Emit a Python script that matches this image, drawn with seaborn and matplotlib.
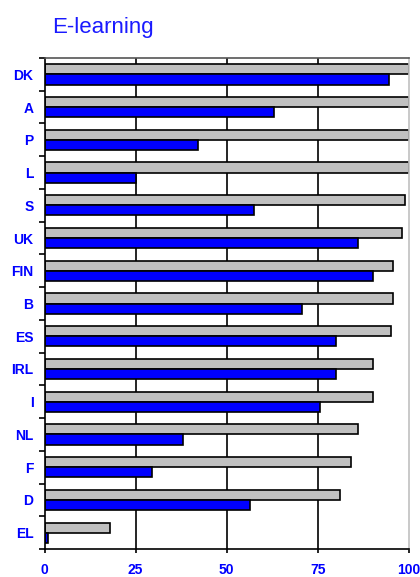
import pandas as pd
import seaborn as sns
import matplotlib.pyplot as plt
from matplotlib.ticker import FixedLocator

countries = ['DK', 'A', 'P', 'L', 'S', 'UK', 'FIN', 'B', 'ES', 'IRL', 'I', 'NL', 'F', 'D', 'EL']
grey_values = [100, 100, 100, 100, 99, 98, 95.5, 95.5, 95, 90, 90, 86, 84, 81, 18]
blue_values = [94.5, 63, 42, 25, 57.5, 86, 90, 70.5, 80, 80, 75.5, 38, 29.5, 56.5, 1]
series_names = ['grey', 'blue']
x_ticks = [0, 25, 50, 75, 100]

df = pd.DataFrame({
    'country': countries * 2,
    'series': [series_names[0]] * len(countries) + [series_names[1]] * len(countries),
    'value': grey_values + blue_values,
})

sns.set_style('white')
plt.rcParams['font.family'] = ['Liberation Sans', 'DejaVu Sans']

fig = plt.figure(figsize=(4.2, 5.77), dpi=100)
ax = fig.add_axes([0.106, 0.0485, 0.868, 0.851])

sns.barplot(data=df, y='country', x='value', hue='series', order=countries,
            hue_order=series_names, palette=['#c0c0c0', '#0000ff'], saturation=1,
            orient='h', width=0.62, edgecolor='black', linewidth=1.2,
            legend=False, ax=ax)

ax.set_xlim(0, 100)
ax.set_ylim(len(countries) - 0.5, -0.5)
ax.set_xticks(x_ticks)
ax.set_xlabel('')
ax.set_ylabel('')

for x in x_ticks[1:-1]:
    ax.axvline(x, color='black', linewidth=1.2, zorder=0)

# ticks between categories on the left axis
ax.yaxis.set_minor_locator(FixedLocator([i + 0.5 for i in range(-1, len(countries))]))
ax.tick_params(axis='y', which='major', length=0, pad=8, labelsize=10, labelcolor='#0000ff')
ax.tick_params(axis='y', which='minor', left=True, length=4, width=1.2, color='black', direction='out')
ax.tick_params(axis='x', bottom=True, length=3, width=1.2, color='black', pad=7,
               labelsize=10, labelcolor='#0000ff')
for lbl in ax.get_xticklabels() + ax.get_yticklabels():
    lbl.set_fontweight('bold')

for side in ['left', 'bottom']:
    ax.spines[side].set_color('black')
    ax.spines[side].set_linewidth(1.2)
ax.spines['top'].set_color('#555555')
ax.spines['top'].set_linewidth(1.2)
ax.spines['right'].set_color('#c0c0c0')
ax.spines['right'].set_linewidth(1.2)

fig.text(0.124, 0.952, 'E-learning', color='#1a1aff', fontsize=16, ha='left', va='center')

plt.savefig('out.png', dpi=100)
plt.close()
